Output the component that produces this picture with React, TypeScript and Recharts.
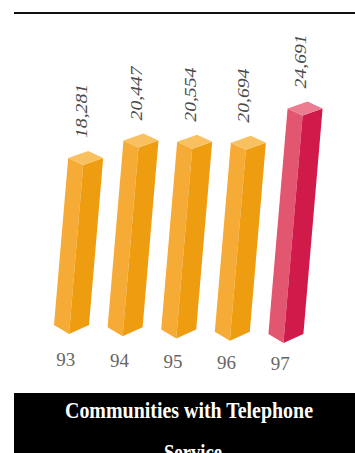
import React from "react";
import { Bar, BarChart, LabelList, XAxis, YAxis } from "recharts";

// values
const years = ["93", "94", "95", "96", "97"];
const communities = [18281, 20447, 20554, 20694, 24691];
const valueLabels = ["18,281", "20,447", "20,554", "20,694", "24,691"];
const highlighted = [false, false, false, false, true];

const data = years.map((year, i) => ({
  year,
  value: communities[i],
  label: valueLabels[i],
  hot: highlighted[i],
}));

const ORANGE = { left: "#F6AB36", right: "#EE9D10", top: "#F9C060" };
const RED = { left: "#E35670", right: "#D01B4A", top: "#EC7C90" };

const SERIF = "'Liberation Serif', 'DejaVu Serif', serif";

// pseudo 3d column, seen from a corner and leaning a bit to the right
function Column3D(props: any) {
  const { x, y, width, height, index, payload } = props;
  if (height == null || height <= 0) return null;
  const c = payload.hot ? RED : ORANGE;
  const shift = index * 2.25;
  const base = y + height + shift;
  const top = y + shift;
  const lean = height * 0.085;
  const wl = width * 0.43;
  const drop = 9;
  const tDrop = 7;

  const left = [
    [x, base],
    [x + wl, base + drop],
    [x + wl + lean, top + tDrop],
    [x + lean, top],
  ];
  const right = [
    [x + wl, base + drop],
    [x + width, base],
    [x + width + lean, top],
    [x + wl + lean, top + tDrop],
  ];
  const cap = [
    [x + lean, top],
    [x + wl + lean, top + tDrop],
    [x + width + lean, top],
    [x + lean + width - wl, top - tDrop],
  ];
  const pts = (p: number[][]) => p.map((q) => q.join(",")).join(" ");

  return (
    <g>
      <polygon points={pts(left)} fill={c.left} />
      <polygon points={pts(right)} fill={c.right} />
      <polygon points={pts(cap)} fill={c.top} />
    </g>
  );
}

function ValueLabel(props: any) {
  const { x, y, width, height, index, value } = props;
  const lean = height * 0.085;
  const cx = x + lean + width * 0.37;
  const cy = y + index * 2.25 - 20;
  return (
    <text
      x={cx}
      y={cy}
      transform={`rotate(-90, ${cx}, ${cy})`}
      textAnchor="start"
      dominantBaseline="central"
      fontFamily={SERIF}
      fontStyle="italic"
      fontSize={16}
      fill="#4a4a4a"
      textLength={54}
      lengthAdjust="spacingAndGlyphs"
    >
      {value}
    </text>
  );
}

function YearTick(props: any) {
  const { x, y, payload } = props;
  const i = payload.index ?? years.indexOf(payload.value);
  return (
    <text
      x={x - 6}
      y={y + 33 + i * 1}
      textAnchor="middle"
      fontFamily={SERIF}
      fontSize={19}
      fill="#666"
    >
      {payload.value}
    </text>
  );
}

export default function App() {
  return (
    <div
      style={{
        position: "absolute",
        left: 0,
        top: 0,
        width: 355,
        height: 453,
        overflow: "hidden",
        background: "#fff",
      }}
    >
      <div
        style={{
          position: "absolute",
          left: 14,
          top: 12,
          width: 341,
          height: 2,
          background: "#111",
        }}
      />
      <div style={{ position: "absolute", left: 0, top: 0 }}>
        <BarChart
          width={355}
          height={380}
          data={data}
          margin={{ top: 60, right: 42, bottom: 25, left: 45 }}
          barSize={35}
        >
          <YAxis hide domain={[0, 29000]} />
          <XAxis
            dataKey="year"
            axisLine={false}
            tickLine={false}
            height={30}
            interval={0}
            tick={<YearTick />}
          />
          <Bar
            dataKey="value"
            shape={<Column3D />}
            isAnimationActive={false}
          >
            <LabelList dataKey="label" content={<ValueLabel />} />
          </Bar>
        </BarChart>
      </div>
      <svg
        width={355}
        height={60}
        style={{ position: "absolute", left: 0, top: 393 }}
      >
        <rect x={14} y={0} width={341} height={60} fill="#000" />
        <text
          x={189}
          y={25}
          textAnchor="middle"
          fontFamily={SERIF}
          fontWeight="bold"
          fontSize={24}
          fill="#fff"
          textLength={248}
          lengthAdjust="spacingAndGlyphs"
        >
          Communities with Telephone
        </text>
        <text
          x={193}
          y={67}
          textAnchor="middle"
          fontFamily={SERIF}
          fontWeight="bold"
          fontSize={24}
          fill="#fff"
          textLength={58}
          lengthAdjust="spacingAndGlyphs"
        >
          Service
        </text>
      </svg>
    </div>
  );
}
